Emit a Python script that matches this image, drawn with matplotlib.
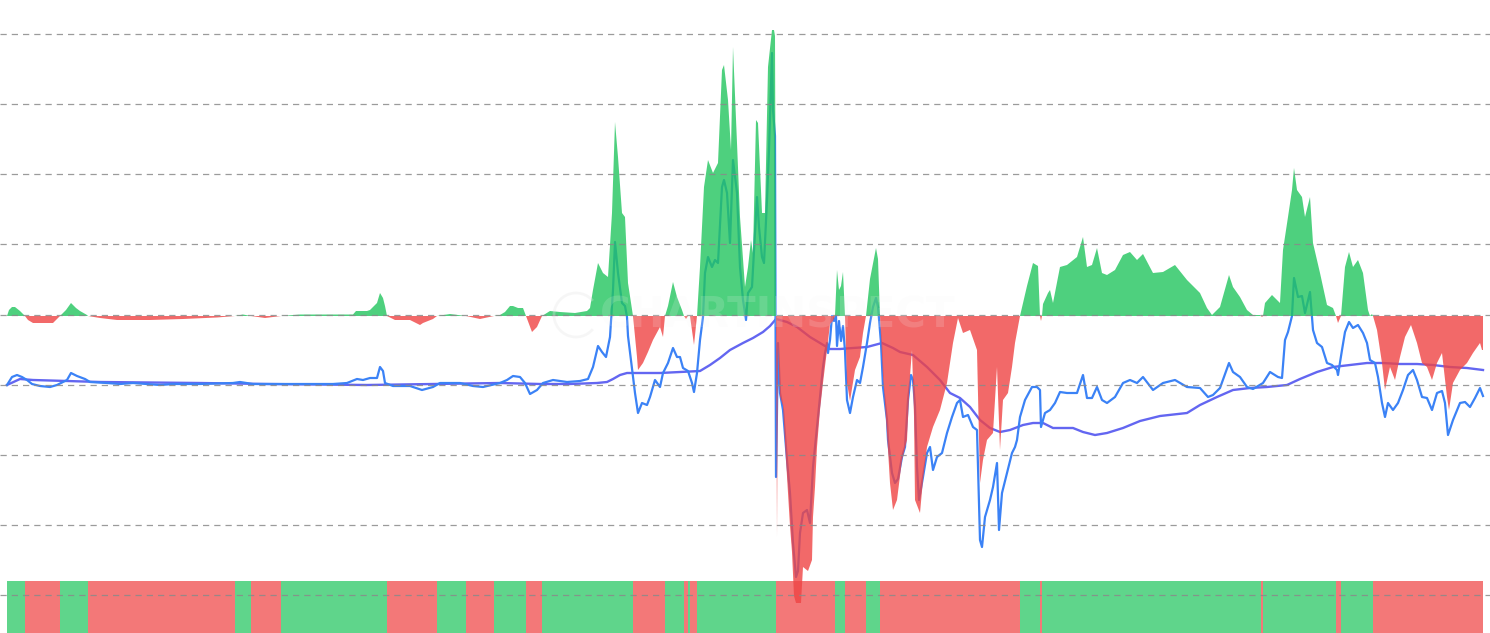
import numpy as np
import matplotlib
matplotlib.use("Agg")
import matplotlib.pyplot as plt
from matplotlib.patches import Arc

# oscillator (day index, value) - green above zero, red below
osc_pts = [
    (7, 0), (9, 6), (12, 9), (15, 9), (20, 5), (25, 0), (28, -4), (33, -7), (45, -7), (53, -7), (60, 0),
    (66, 6), (71, 13), (76, 8), (80, 5), (87, 1), (88, 0), (100, -2), (117, -4), (150, -4), (183, -3),
    (217, -1.5), (235, 0), (243, 1.5), (251, 0), (265, -2), (281, 0), (300, 1.5), (330, 1.5), (353, 1.5),
    (356, 5), (367, 5), (370, 6), (377, 13), (380, 23), (383, 18), (385, 10), (387, 0), (395, -4), (410, -4),
    (420, -9), (423, -7), (433, -3), (437, 0), (450, 2), (466, 0), (480, -3), (494, 0), (500, 1), (505, 4),
    (510, 10), (513, 10), (518, 8), (523, 8), (526, 0), (532, -16), (537, -11), (542, 0), (550, 5), (560, 4),
    (575, 3), (587, 5), (590, 8), (593, 26), (598, 53), (603, 43), (608, 39), (612, 103), (615, 194),
    (618, 159), (622, 103), (625, 99), (628, 33), (633, 0), (637, -41), (638, -54), (643, -47), (648, -36),
    (653, -24), (660, -11), (663, -21), (665, 0), (668, 10), (673, 34), (677, 19), (682, 6), (684, 0),
    (686, -3), (688, 0), (689, 1), (690, 0), (694, -29), (697, 0), (700, 49), (704, 129), (708, 156),
    (713, 143), (718, 153), (722, 246), (724, 251), (728, 216), (731, 166), (733, 269), (737, 173), (740, 99),
    (745, 29), (748, 49), (751, 76), (753, 63), (756, 196), (758, 193), (762, 103), (765, 103), (768, 249),
    (772, 286), (774, 286), (775, 280), (776, 0), (777, -221), (778, -30), (780, -80), (783, -90),
    (785, -127), (788, -177), (790, -210), (792, -236), (794, -280), (796, -287), (801, -287), (803, -251),
    (808, -255), (812, -244), (813, -201), (815, -171), (817, -131), (820, -94), (823, -67), (827, -34),
    (830, -8), (833, -5), (835, 0), (837, 46), (839, 26),
    (841, 30), (843, 44), (845, 0), (847, -67), (850, -85), (855, -54), (860, -41), (863, -17), (866, 0),
    (870, 37), (876, 68), (878, 57), (880, 0), (883, -60), (887, -117), (890, -167), (893, -194), (897, -184),
    (902, -144), (907, -124), (910, -60), (912, -34), (914, -100), (915, -184), (920, -197), (923, -164),
    (927, -131), (933, -111), (940, -94), (947, -67), (953, -27), (958, -2), (963, -17), (970, -14),
    (977, -34), (980, -167), (983, -144), (987, -124), (993, -117), (997, -51), (1000, -134), (1003, -84),
    (1008, -77), (1012, -51), (1015, -27), (1020, 0), (1027, 30), (1033, 53), (1038, 50), (1040, 0),
    (1041, -5), (1042, 0), (1043, 12), (1048, 23), (1050, 26), (1053, 13), (1060, 49), (1067, 51), (1077, 59),
    (1083, 79), (1087, 49), (1092, 51), (1097, 68), (1102, 43), (1107, 41), (1115, 46), (1123, 61), (1130, 64),
    (1137, 56), (1143, 62), (1153, 43), (1163, 44), (1175, 51), (1187, 36), (1200, 23), (1207, 8), (1212, 1),
    (1220, 9), (1229, 41), (1233, 29), (1240, 19), (1247, 6), (1253, 1), (1260, 1), (1261, 0), (1262, -1),
    (1263, 0), (1265, 13), (1272, 21), (1280, 13), (1283, 66), (1288, 99), (1292, 126), (1294, 148),
    (1297, 126), (1302, 119), (1305, 99), (1310, 119), (1313, 73), (1320, 43), (1327, 11), (1333, 8),
    (1336, 0), (1338, -7), (1341, 0), (1345, 49), (1349, 64), (1353, 49), (1358, 56), (1363, 43), (1368, 6),
    (1370, 0), (1372, 2), (1373, 0), (1377, -14), (1382, -47), (1385, -74), (1390, -51), (1395, -64),
    (1400, -41), (1405, -21), (1411, -9), (1417, -27), (1422, -47), (1427, -51), (1432, -64), (1437, -47),
    (1442, -37), (1447, -81), (1449, -94), (1453, -67), (1460, -54), (1467, -47), (1473, -37), (1480, -27),
    (1482, -34), (1483, -34),
]

# price line
price_pts = [
    (7, -69), (12, -61), (17, -59), (22, -61), (27, -64), (32, -68), (40, -70), (50, -71), (57, -69),
    (63, -66), (67, -64), (71, -57), (77, -60), (85, -63), (90, -66), (107, -67), (120, -68), (133, -67),
    (160, -69), (173, -68), (200, -68), (233, -67), (240, -66), (253, -68), (283, -68), (333, -68), (347, -67),
    (357, -63), (363, -64), (370, -62), (377, -62), (380, -51), (383, -55), (385, -67), (393, -70), (410, -70),
    (422, -74), (433, -71), (440, -67), (460, -67), (473, -70), (483, -71), (500, -67), (507, -64), (513, -60),
    (520, -61), (525, -67), (530, -78), (537, -74), (543, -67), (553, -64), (567, -66), (580, -65), (588, -63),
    (593, -51), (598, -30), (602, -36), (606, -41), (610, -21), (613, 26), (615, 74), (618, 43), (622, 13),
    (625, 10), (627, -1), (628, -20), (632, -53), (635, -77), (638, -97), (642, -87), (647, -89), (650, -81),
    (655, -64), (660, -71), (663, -57), (668, -47), (673, -32), (677, -41), (680, -41), (683, -52), (688, -55),
    (692, -67), (694, -76), (697, -57), (700, -24), (703, -1), (705, 43), (708, 59), (712, 49), (715, 56),
    (718, 53), (722, 129), (724, 136), (727, 123), (730, 73), (733, 156), (737, 123), (740, 49), (743, 16),
    (746, -4), (748, 23), (752, 29), (755, 83), (757, 119), (759, 89), (762, 59), (764, 53), (767, 116),
    (769, 166), (772, 263), (773, 206), (775, 180), (776, -161), (778, -27), (780, -77), (783, -94),
    (787, -144), (790, -177), (793, -227), (796, -261), (798, -255), (800, -217), (803, -197), (807, -194),
    (810, -207), (813, -151), (817, -111), (820, -81), (823, -51), (825, -37), (827, -27), (828, -37),
    (830, -24), (832, 0), (834, -5), (836, 0),
    (837, -30), (839, -5), (841, -25), (843, -10), (845, -35), (847, -84), (850, -97), (853, -81), (857, -64),
    (860, -67), (863, -51), (867, -27), (870, -7), (873, 9), (876, 18), (878, 9), (881, -27), (883, -71),
    (887, -104), (888, -124), (892, -157), (895, -167), (898, -163), (902, -141), (905, -131), (908, -84),
    (911, -59), (913, -64), (915, -90), (917, -151), (919, -184), (923, -161), (927, -137), (930, -131),
    (933, -154), (937, -141), (942, -137), (947, -117), (952, -101), (957, -87), (960, -84), (963, -101),
    (968, -99), (973, -111), (977, -114), (978, -151), (980, -224), (982, -231), (985, -201), (990, -184),
    (993, -171), (997, -147), (999, -214), (1002, -177), (1007, -157), (1012, -137), (1015, -131),
    (1017, -124), (1020, -101), (1025, -84), (1032, -71), (1037, -71), (1040, -74), (1041, -111), (1045, -97),
    (1050, -94), (1055, -87), (1060, -76), (1067, -77), (1077, -77), (1083, -59), (1087, -82), (1092, -82),
    (1097, -71), (1102, -84), (1107, -87), (1115, -81), (1123, -67), (1130, -64), (1137, -67), (1143, -61),
    (1153, -74), (1163, -67), (1175, -64), (1187, -71), (1200, -72), (1208, -81), (1213, -79), (1220, -72),
    (1229, -47), (1233, -56), (1240, -61), (1247, -71), (1253, -73), (1263, -67), (1270, -56), (1278, -61),
    (1282, -62), (1285, -24), (1288, -16), (1292, 0), (1294, 38), (1298, 19), (1302, 20), (1305, 3),
    (1310, 24), (1313, -14), (1317, -27), (1322, -31), (1327, -47), (1332, -49), (1337, -54), (1338, -59),
    (1342, -34), (1345, -16), (1349, -6), (1353, -12), (1358, -9), (1363, -17), (1367, -27), (1370, -44),
    (1375, -47), (1378, -61), (1382, -87), (1385, -101), (1388, -87), (1393, -94), (1398, -87), (1403, -74),
    (1408, -59), (1413, -54), (1417, -64), (1422, -81), (1427, -82), (1432, -94), (1437, -77), (1442, -75),
    (1445, -87), (1448, -119), (1453, -104), (1460, -87), (1465, -86), (1470, -91), (1475, -82), (1480, -72),
    (1483, -80),
]

# moving average line
ma_pts = [
    (7, -69), (20, -63), (33, -64), (67, -65), (100, -66), (200, -67), (267, -68), (367, -69), (433, -68),
    (500, -67), (540, -68), (570, -68), (597, -67), (607, -66), (613, -63), (620, -59), (627, -57), (640, -57),
    (660, -57), (680, -56), (700, -55), (710, -49), (720, -42), (730, -34), (743, -27), (753, -22), (763, -16),
    (770, -10), (776, -3), (787, -6), (797, -11), (810, -21), (820, -27), (830, -33), (840, -33), (853, -32),
    (867, -31), (882, -27), (893, -32), (900, -36), (913, -39), (927, -51), (940, -64), (950, -77), (960, -82),
    (970, -91), (980, -104), (990, -112), (1000, -116), (1010, -114), (1023, -109), (1033, -107), (1043, -107),
    (1053, -112), (1073, -112), (1083, -116), (1095, -119), (1107, -117), (1123, -112), (1140, -105),
    (1160, -100), (1187, -97), (1200, -89), (1217, -81), (1233, -74), (1250, -72), (1267, -71), (1287, -69),
    (1300, -63), (1317, -56), (1333, -51), (1350, -49), (1367, -47), (1383, -47), (1400, -48), (1417, -48),
    (1433, -49), (1450, -51), (1467, -52), (1483, -54),
]

grid_levels = [282, 212, 142, 72, 1, -69, -139, -209, -279]

GREEN = "#22c55e"
RED = "#ef4444"

ox, ov = np.array(osc_pts, dtype=float).T
px, pv = np.array(price_pts, dtype=float).T
mx, mv = np.array(ma_pts, dtype=float).T

fig = plt.figure(figsize=(14.9, 6.33), dpi=100)
ax = fig.add_axes([0, 0, 1, 1])
ax.set_xlim(0, 1490)
ax.set_ylim(-317, 316)
ax.axis("off")

# lines sit under the translucent fills
ax.plot(mx, mv, color="#6366f1", lw=1.7, zorder=1)
ax.plot(px, pv, color="#3b82f6", lw=1.6, zorder=1)

ax.fill_between(ox, ov, 0, where=ov >= 0, color=GREEN, alpha=0.8, lw=0, zorder=2)
ax.fill_between(ox, ov, 0, where=ov <= 0, color=RED, alpha=0.8, lw=0, zorder=2)

# regime strip at the bottom
ax.fill_between(ox, -335, -265, where=ov >= 0, color=GREEN, alpha=0.72, lw=0, zorder=3)
ax.fill_between(ox, -335, -265, where=ov <= 0, color=RED, alpha=0.72, lw=0, zorder=3)

for g in grid_levels:
    ax.axhline(g, color="#8a8a8a", lw=0.9, ls=(0, (5, 4)), alpha=0.85, zorder=4)

# faint watermark
ax.add_patch(Arc((576, 1), 44, 44, theta1=40, theta2=320, color="#e4e4e4", lw=2, alpha=0.3, zorder=5))
ax.text(600, 1, "CHARTINSPECT", fontsize=30, fontweight="bold", color="#f4f4f4", alpha=0.16,
        va="center", ha="left", zorder=5)

fig.savefig("out.png", dpi=100)
